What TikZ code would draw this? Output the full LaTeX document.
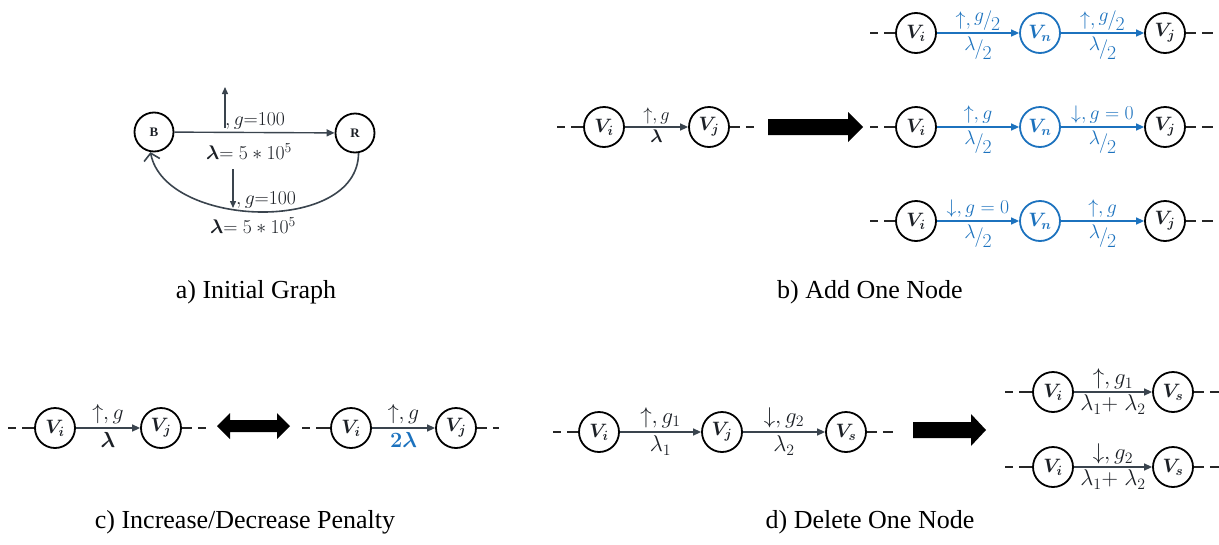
\documentclass[tikz,border=0pt]{standalone}
\usepackage{amsmath,bm}
\usepackage{fontspec}
\setmainfont{Liberation Serif}
\newfontfamily\capfont{Liberation Serif}
\usetikzlibrary{arrows.meta}
\definecolor{edgec}{RGB}{58,68,78}
\definecolor{txtc}{RGB}{28,32,38}
\definecolor{blueC}{RGB}{28,114,190}
\newcommand{\fsz}[1]{\fontsize{#1}{#1}\selectfont}
\newcommand{\slfrac}[2]{\raisebox{.45ex}{$#1$}\kern-.05em/\kern-.05em\raisebox{-.55ex}{$#2$}}
\newcommand{\vl}[1]{\scalebox{1.12}{$\bm{V_{#1}}$}}
\tikzset{
  vn/.style={circle,draw=black,line width=1.8pt,minimum size=40pt,inner sep=0pt,text=txtc,font=\fsz{17.28}},
  bn/.style={vn,draw=blueC,text=blueC},
  an/.style={circle,draw=black,line width=1.8pt,minimum size=39pt,inner sep=0pt,text=txtc,font=\capfont\fsz{13}\bfseries},
  edg/.style={draw=edgec,line width=1.4pt,-{Triangle[length=8pt,width=7pt]}},
  be/.style={edg,draw=blueC},
  dshin/.style={draw=black!85,line width=1.8pt,dash pattern=on 8pt off 6pt on 30pt},
  dshout/.style={draw=black!85,line width=1.8pt,dash pattern=on 10pt off 6pt on 30pt},
  lab/.style={text=txtc,inner sep=3pt,font=\fsz{20.74}},
  blab/.style={text=blueC,inner sep=3pt,font=\fsz{20.74}},
  captext/.style={font=\capfont\fsz{26},text=black},
  bigarrow/.style={fill=black},
}
\begin{document}
\begin{tikzpicture}[x=1pt,y=-1pt]
\useasboundingbox (0,0) rectangle (1219,544);
% ---------------- panel a
\node[an] (B) at (154,132) {B};
\node[an] (R) at (355,133) {R};
\draw[edg] (B) -- (R);
\coordinate (ua0) at (225,128);
\coordinate (ua1) at (225,87);
\draw[edg,-{Triangle[length=7pt,width=6pt]}] (ua0) -- (ua1);
\node[lab,anchor=base west,scale=0.95,inner sep=1pt] (ga1) at (224,125) {$,g{=}100$};
\node[lab,scale=0.95] (la1) at (249,152) {$\bm{\lambda}{=}\;5\ast 10^{5}$};
\draw[draw=edgec,line width=1.6pt,-{Straight Barb[length=7pt,width=16pt,line width=1.6pt]}] (R.-80) .. controls (358,235) and (165,228) .. (B.-100);
\coordinate (da0) at (233,169);
\coordinate (da1) at (233,208);
\draw[edg,-{Triangle[length=7pt,width=6pt]}] (da0) -- (da1);
\node[lab,anchor=base west,scale=0.95,inner sep=1pt] (ga2) at (235,204) {$,g{=}100$};
\node[lab,scale=0.95] (la2) at (253,226) {$\bm{\lambda}{=}\;5\ast 10^{5}$};
\node[captext] (capa) at (256,292) {a) Initial Graph};
% ---------------- panel b left
\node[vn] (bvi) at (604,127) {\vl{i}};
\node[vn] (bvj) at (709,127) {\vl{j}};
\coordinate (bd0) at (557,127);
\coordinate (bd1) at (754,127);
\draw[dshin] (bd0) -- (bvi);
\draw[dshout] (bvj) -- (bd1);
\draw[edg] (bvi) -- (bvj) node[midway,above,lab,scale=0.88] {$\uparrow, g$} node[midway,below,lab,scale=0.88] {$\bm{\lambda}$};
\fill[bigarrow] (768,119) -- (848,119) -- (848,112) -- (863,127) -- (848,142) -- (848,135) -- (768,135) -- cycle;
% ---------------- panel b right
\foreach \r/\yy in {1/33,2/127,3/221}{
  \node[vn] (ri\r) at (916,\yy) {\vl{i}};
  \node[bn] (rn\r) at (1040,\yy) {\vl{n}};
  \node[vn] (rj\r) at (1165,\yy) {\vl{j}};
  \coordinate (rd0\r) at (870,\yy);
  \coordinate (rd1\r) at (1213,\yy);
  \draw[dshin] (rd0\r) -- (ri\r);
  \draw[dshout] (rj\r) -- (rd1\r);
}
\tikzset{bl/.style={blab,scale=0.95}}
\newcommand{\halfl}{\slfrac{\lambda}{2}}
\newcommand{\halfg}{\slfrac{g}{2}}
\draw[be] (ri1) -- (rn1) node[midway,above,bl,inner sep=2pt] {$\uparrow, \halfg$} node[midway,below,bl] {$\halfl$};
\draw[be] (rn1) -- (rj1) node[midway,above,bl,inner sep=2pt] {$\uparrow, \halfg$} node[midway,below,bl] {$\halfl$};
\draw[be] (ri2) -- (rn2) node[midway,above,bl] {$\uparrow, g$} node[midway,below,bl] {$\halfl$};
\draw[be] (rn2) -- (rj2) node[midway,above,bl] {$\downarrow, g = 0$} node[midway,below,bl] {$\halfl$};
\draw[be] (ri3) -- (rn3) node[midway,above,bl] {$\downarrow, g = 0$} node[midway,below,bl] {$\halfl$};
\draw[be] (rn3) -- (rj3) node[midway,above,bl] {$\uparrow, g$} node[midway,below,bl] {$\halfl$};
\node[captext] (capb) at (870,292) {b) Add One Node};
% ---------------- panel c
\tikzset{cl/.style={lab,scale=1.05}}
\node[vn] (cvi) at (55,428) {\vl{i}};
\node[vn] (cvj) at (161,428) {\vl{j}};
\coordinate (cd0) at (8,428);
\coordinate (cd1) at (206,428);
\draw[dshin] (cd0) -- (cvi);
\draw[dshout] (cvj) -- (cd1);
\draw[edg] (cvi) -- (cvj) node[midway,above,cl] {$\uparrow, g$} node[midway,below,cl] {$\bm{\lambda}$};
\fill[bigarrow] (217,426) -- (230,413) -- (230,420) -- (277,420) -- (277,413) -- (290,426) -- (277,439) -- (277,432) -- (230,432) -- (230,439) -- cycle;
\node[vn] (cvi2) at (351,428) {\vl{i}};
\node[vn] (cvj2) at (456,428) {\vl{j}};
\coordinate (cd2) at (302,428);
\coordinate (cd3) at (499,428);
\draw[dshin] (cd2) -- (cvi2);
\draw[dshout] (cvj2) -- (cd3);
\draw[edg] (cvi2) -- (cvj2) node[midway,above,cl] {$\uparrow, g$} node[midway,below,blab,scale=1.05] {$\bm{2\lambda}$};
\node[captext] (capc) at (245,522) {c) Increase/Decrease Penalty};
% ---------------- panel d
\tikzset{dl/.style={lab,scale=1.1}}
\node[vn] (dvi) at (599,432) {\vl{i}};
\node[vn] (dvj) at (722,432) {\vl{j}};
\node[vn] (dvs) at (846,432) {\vl{s}};
\coordinate (dd0) at (553,432);
\coordinate (dd1) at (893,432);
\draw[dshin] (dd0) -- (dvi);
\draw[dshout] (dvs) -- (dd1);
\draw[edg] (dvi) -- (dvj) node[midway,above,dl] {$\uparrow, g_1$} node[midway,below,dl] {$\lambda_1$};
\draw[edg] (dvj) -- (dvs) node[midway,above,dl] {$\downarrow, g_2$} node[midway,below,dl] {$\lambda_2$};
\fill[bigarrow] (913,422) -- (971,422) -- (971,414) -- (986,430) -- (971,446) -- (971,438) -- (913,438) -- cycle;
\foreach \r/\yy in {1/392,2/467}{
  \node[vn] (ei\r) at (1053,\yy) {\vl{i}};
  \node[vn] (es\r) at (1173,\yy) {\vl{s}};
  \coordinate (ee0\r) at (1005,\yy);
  \coordinate (ee1\r) at (1219,\yy);
  \draw[dshin] (ee0\r) -- (ei\r);
  \draw[dshout] (es\r) -- (ee1\r);
}
\draw[edg] (ei1) -- (es1) node[midway,above,dl,inner sep=2pt] {$\uparrow, g_1$} node[midway,below,dl,inner sep=2pt] {$\lambda_1{+}\;\lambda_2$};
\draw[edg] (ei2) -- (es2) node[midway,above,dl,inner sep=2pt] {$\downarrow, g_2$} node[midway,below,dl,inner sep=2pt] {$\lambda_1{+}\;\lambda_2$};
\node[captext] (capd) at (870,522) {d) Delete One Node};
\end{tikzpicture}
\end{document}
